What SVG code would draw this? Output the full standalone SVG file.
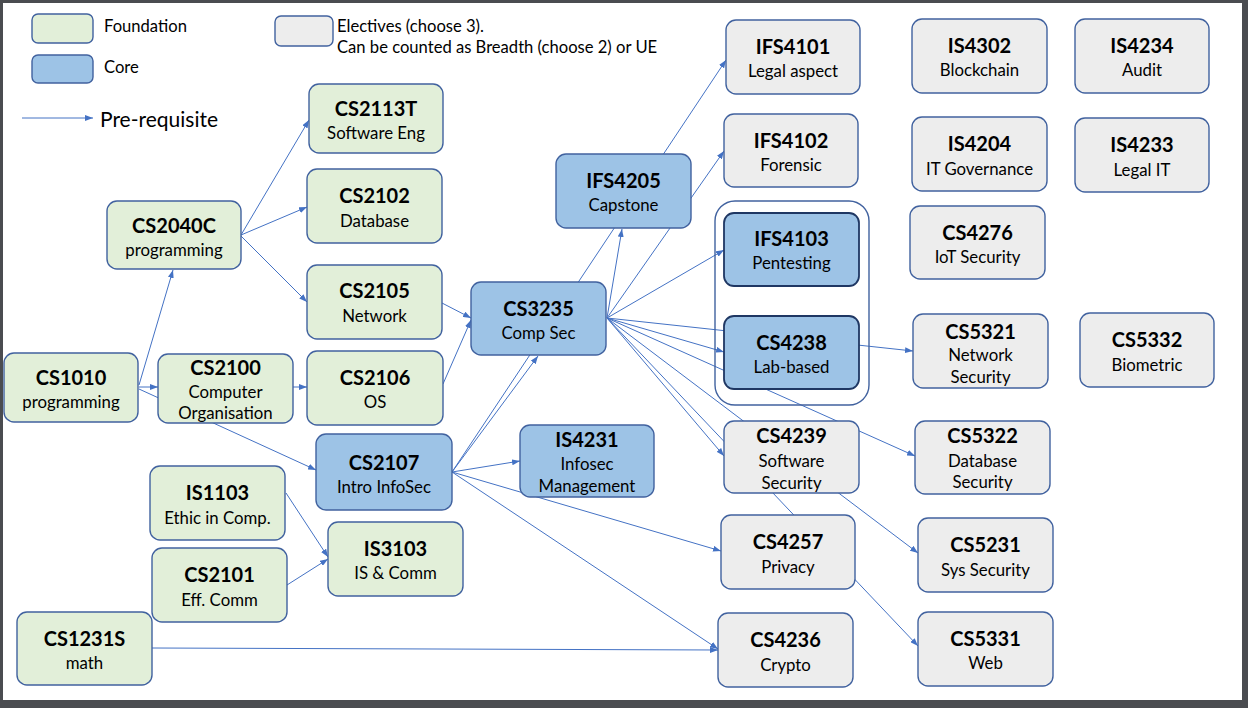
<svg xmlns="http://www.w3.org/2000/svg" width="1248" height="708" viewBox="0 0 1248 708">
<style>
.n{stroke:#41629f;stroke-width:1.4}
.g{fill:#e2efd9}
.b{fill:#9dc3e6}
.e{fill:#ededed}
.d{stroke:#1f3763;stroke-width:1.8}
.t{font-family:Lato,"Liberation Sans",sans-serif;font-weight:bold;font-size:20px;text-anchor:middle;fill:#000}
.s{font-family:Lato,"Liberation Sans",sans-serif;font-size:16.8px;text-anchor:middle;fill:#000}
.l{font-family:Lato,"Liberation Sans",sans-serif;font-size:16.6px;fill:#000}
.c line{stroke:#4472c4;stroke-width:1;fill:none}
.a{marker-end:url(#ar)}
</style>
<defs>
<marker id="ar" markerWidth="8" markerHeight="6" refX="8" refY="3" orient="auto" markerUnits="userSpaceOnUse">
<path d="M0,0 L8,3 L0,6 z" fill="#4472c4"/>
</marker>
</defs>
<rect x="0" y="0" width="1248" height="708" fill="#4a4c50"/>
<rect x="3" y="3" width="1239" height="697" fill="#ffffff"/>

<g id="legend">
<rect class="n g" x="32" y="14" width="61" height="29" rx="6"/>
<text class="l" x="104" y="32">Foundation</text>
<rect class="n b" x="32" y="55" width="61" height="28" rx="6"/>
<text class="l" x="104" y="73">Core</text>
<rect class="n e" x="275" y="16" width="58" height="30" rx="6"/>
<text class="l" x="337" y="32">Electives (choose 3).</text>
<text class="l" x="337" y="53">Can be counted as Breadth (choose 2) or UE</text>
<g class="c"><line class="a" x1="22" y1="118" x2="93" y2="118"/></g>
<text class="l" x="100" y="127" style="font-size:21px">Pre-requisite</text>
</g>

<g id="connectors" class="c">
<line class="a" x1="139" y1="385" x2="173" y2="270"/>
<line class="a" x1="139" y1="387" x2="158" y2="387"/>
<line class="a" x1="139" y1="389" x2="316" y2="470"/>
<line class="a" x1="241" y1="235" x2="309" y2="120"/>
<line class="a" x1="241" y1="235" x2="307" y2="207"/>
<line class="a" x1="241" y1="236" x2="307" y2="302"/>
<line class="a" x1="293" y1="387" x2="307" y2="387"/>
<line class="a" x1="442" y1="303" x2="471" y2="318"/>
<line class="a" x1="443" y1="384" x2="471" y2="320"/>
<line class="a" x1="286" y1="493" x2="328" y2="557"/>
<line class="a" x1="287" y1="585" x2="328" y2="559"/>
<line class="a" x1="152" y1="648" x2="718" y2="650"/>
<line class="a" x1="452" y1="472" x2="520" y2="461"/>
<line class="a" x1="452" y1="472" x2="721" y2="551"/>
<line class="a" x1="452" y1="472" x2="718" y2="649"/>
<line class="a" x1="452" y1="472" x2="538" y2="356"/>
<line class="a" x1="452" y1="472" x2="726" y2="60"/>
<line class="a" x1="607" y1="318" x2="622" y2="229"/>
<line class="a" x1="607" y1="318" x2="724" y2="151"/>
<line class="a" x1="607" y1="318" x2="724" y2="250"/>
<line class="a" x1="607" y1="318" x2="913" y2="351"/>
<line class="a" x1="607" y1="318" x2="724" y2="352"/>
<line class="a" x1="607" y1="318" x2="915" y2="456"/>
<line class="a" x1="607" y1="318" x2="918" y2="553"/>
<line class="a" x1="607" y1="318" x2="918" y2="646"/>
<line class="a" x1="607" y1="318" x2="724" y2="456"/>
</g>

<g id="group-lab"><rect x="715" y="201" width="154" height="204" rx="20" fill="none" stroke="#41629f" stroke-width="1.4"/></g>

<g id="CS2113T"><rect class="n g" x="309" y="84" width="134" height="69" rx="10"/><text class="t" x="376" y="116">CS2113T</text><text class="s" x="376" y="139">Software Eng</text></g>
<g id="CS2102"><rect class="n g" x="307" y="169" width="135" height="74" rx="10"/><text class="t" x="374.5" y="203">CS2102</text><text class="s" x="374.5" y="227">Database</text></g>
<g id="CS2040C"><rect class="n g" x="107" y="201" width="134" height="68" rx="10"/><text class="t" x="174" y="233">CS2040C</text><text class="s" x="174" y="256">programming</text></g>
<g id="CS2105"><rect class="n g" x="307" y="265" width="135" height="74" rx="10"/><text class="t" x="374.5" y="298">CS2105</text><text class="s" x="374.5" y="322">Network</text></g>
<g id="CS1010"><rect class="n g" x="4" y="353" width="134" height="69" rx="10"/><text class="t" x="71" y="385">CS1010</text><text class="s" x="71" y="408">programming</text></g>
<g id="CS2100"><rect class="n g" x="158" y="354" width="135" height="69" rx="10"/><text class="t" x="225.5" y="375">CS2100</text><text class="s" x="225.5" y="398">Computer</text><text class="s" x="225.5" y="419">Organisation</text></g>
<g id="CS2106"><rect class="n g" x="307" y="351" width="136" height="74" rx="10"/><text class="t" x="375" y="385">CS2106</text><text class="s" x="375" y="408">OS</text></g>
<g id="CS2107"><rect class="n b" x="316" y="434" width="136" height="76" rx="10"/><text class="t" x="384" y="470">CS2107</text><text class="s" x="384" y="493">Intro InfoSec</text></g>
<g id="IS1103"><rect class="n g" x="150" y="466" width="135" height="74" rx="10"/><text class="t" x="217.5" y="500">IS1103</text><text class="s" x="217.5" y="524">Ethic in Comp.</text></g>
<g id="IS3103"><rect class="n g" x="328" y="522" width="135" height="74" rx="10"/><text class="t" x="395.5" y="556">IS3103</text><text class="s" x="395.5" y="579">IS &amp; Comm</text></g>
<g id="CS2101"><rect class="n g" x="152" y="548" width="135" height="74" rx="10"/><text class="t" x="219.5" y="582">CS2101</text><text class="s" x="219.5" y="606">Eff. Comm</text></g>
<g id="CS1231S"><rect class="n g" x="17" y="612" width="135" height="73" rx="10"/><text class="t" x="84.5" y="646">CS1231S</text><text class="s" x="84.5" y="669">math</text></g>
<g id="CS3235"><rect class="n b" x="471" y="282" width="135" height="73" rx="10"/><text class="t" x="538.5" y="316">CS3235</text><text class="s" x="538.5" y="339">Comp Sec</text></g>
<g id="IFS4205"><rect class="n b" x="556" y="154" width="135" height="74" rx="10"/><text class="t" x="623.5" y="188">IFS4205</text><text class="s" x="623.5" y="211">Capstone</text></g>
<g id="IS4231"><rect class="n b" x="520" y="425" width="134" height="72" rx="10"/><text class="t" x="587" y="447">IS4231</text><text class="s" x="587" y="470">Infosec</text><text class="s" x="587" y="492">Management</text></g>
<g id="IFS4101"><rect class="n e" x="726" y="20" width="134" height="74" rx="10"/><text class="t" x="793" y="54">IFS4101</text><text class="s" x="793" y="77">Legal aspect</text></g>
<g id="IFS4102"><rect class="n e" x="724" y="114" width="134" height="73" rx="10"/><text class="t" x="791" y="148">IFS4102</text><text class="s" x="791" y="171">Forensic</text></g>
<g id="IFS4103"><rect class="n b d" x="724" y="213" width="135" height="73" rx="10"/><text class="t" x="791.5" y="246">IFS4103</text><text class="s" x="791.5" y="269">Pentesting</text></g>
<g id="CS4238"><rect class="n b d" x="724" y="316" width="135" height="73" rx="10"/><text class="t" x="791.5" y="350">CS4238</text><text class="s" x="791.5" y="373">Lab-based</text></g>
<g id="CS4239"><rect class="n e" x="724" y="421" width="135" height="72" rx="10"/><text class="t" x="791.5" y="443">CS4239</text><text class="s" x="791.5" y="467">Software</text><text class="s" x="791.5" y="489">Security</text></g>
<g id="CS4257"><rect class="n e" x="721" y="515" width="134" height="74" rx="10"/><text class="t" x="788" y="549">CS4257</text><text class="s" x="788" y="573">Privacy</text></g>
<g id="CS4236"><rect class="n e" x="718" y="613" width="135" height="74" rx="10"/><text class="t" x="785.5" y="647">CS4236</text><text class="s" x="785.5" y="671">Crypto</text></g>
<g id="IS4302"><rect class="n e" x="912" y="19" width="135" height="74" rx="10"/><text class="t" x="979.5" y="53">IS4302</text><text class="s" x="979.5" y="76">Blockchain</text></g>
<g id="IS4234"><rect class="n e" x="1075" y="19" width="134" height="74" rx="10"/><text class="t" x="1142" y="53">IS4234</text><text class="s" x="1142" y="76">Audit</text></g>
<g id="IS4204"><rect class="n e" x="912" y="117" width="135" height="74" rx="10"/><text class="t" x="979.5" y="151">IS4204</text><text class="s" x="979.5" y="175">IT Governance</text></g>
<g id="IS4233"><rect class="n e" x="1075" y="118" width="134" height="74" rx="10"/><text class="t" x="1142" y="152">IS4233</text><text class="s" x="1142" y="176">Legal IT</text></g>
<g id="CS4276"><rect class="n e" x="910" y="206" width="135" height="73" rx="10"/><text class="t" x="977.5" y="240">CS4276</text><text class="s" x="977.5" y="263">IoT Security</text></g>
<g id="CS5321"><rect class="n e" x="913" y="314" width="135" height="74" rx="10"/><text class="t" x="980.5" y="339">CS5321</text><text class="s" x="980.5" y="361">Network</text><text class="s" x="980.5" y="383">Security</text></g>
<g id="CS5332"><rect class="n e" x="1080" y="313" width="134" height="74" rx="10"/><text class="t" x="1147" y="347">CS5332</text><text class="s" x="1147" y="371">Biometric</text></g>
<g id="CS5322"><rect class="n e" x="915" y="421" width="135" height="73" rx="10"/><text class="t" x="982.5" y="443">CS5322</text><text class="s" x="982.5" y="467">Database</text><text class="s" x="982.5" y="488">Security</text></g>
<g id="CS5231"><rect class="n e" x="918" y="518" width="135" height="74" rx="10"/><text class="t" x="985.5" y="552">CS5231</text><text class="s" x="985.5" y="576">Sys Security</text></g>
<g id="CS5331"><rect class="n e" x="918" y="612" width="135" height="74" rx="10"/><text class="t" x="985.5" y="646">CS5331</text><text class="s" x="985.5" y="669">Web</text></g>
</svg>
